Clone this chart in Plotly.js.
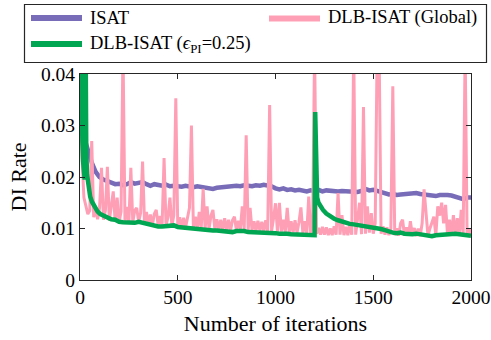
<!DOCTYPE html>
<html>
<head>
<meta charset="utf-8">
<script src="https://cdn.plot.ly/plotly-3.0.1.min.js"></script>
<style>
html,body{margin:0;padding:0;background:#fff;}
#wrap{position:relative;width:491px;height:340px;}
#legendFrame{position:absolute;left:24px;top:4px;width:463px;height:59px;box-sizing:border-box;border:1px solid #262626;pointer-events:none;z-index:5;}
</style>
</head>
<body>
<div id="wrap">
<div id="chart" style="width:491px;height:340px;"></div>
<div id="legendFrame"></div>
</div>
<script>
// ---------------- data ----------------
const seriesNames = ["ISAT", "DLB-ISAT (Global)", "DLB-ISAT (<i>ϵ</i><sub>PI</sub>=0.25)"];

const isatIter = [0,10,20,30,40,60,80,100,120,140,160,180,200,220,240,260,280,300,320,340,360,380,400,420,440,460,480,500,520,540,560,580,600,620,640,660,680,700,720,740,760,780,800,820,840,860,880,900,920,940,960,980,1000,1020,1040,1060,1080,1100,1120,1140,1160,1180,1200,1220,1240,1260,1280,1300,1320,1340,1360,1380,1400,1420,1440,1460,1480,1500,1520,1540,1560,1580,1600,1620,1640,1660,1680,1700,1720,1740,1760,1780,1800,1820,1840,1860,1880,1900,1920,1940,1960,1980,2000];
const isatRate = [0.0375,0.0310,0.0280,0.0265,0.0252,0.0228,0.0210,0.0200,0.0195,0.0192,0.0189,0.0186,0.0187,0.0184,0.0186,0.0190,0.0187,0.0188,0.0190,0.0186,0.0183,0.0186,0.0184,0.0183,0.0185,0.0182,0.0183,0.0182,0.0181,0.0183,0.0181,0.0180,0.0182,0.0181,0.0179,0.0178,0.0177,0.0179,0.0180,0.0181,0.0180,0.0182,0.0183,0.0182,0.0184,0.0183,0.0182,0.0184,0.0183,0.0185,0.0184,0.0182,0.0178,0.0176,0.0178,0.0175,0.0176,0.0174,0.0175,0.0173,0.0172,0.0174,0.0173,0.0175,0.0172,0.0174,0.0173,0.0174,0.0172,0.0173,0.0172,0.0171,0.0172,0.0171,0.0173,0.0177,0.0174,0.0175,0.0173,0.0170,0.0168,0.0166,0.0167,0.0165,0.0166,0.0167,0.0168,0.0170,0.0169,0.0167,0.0166,0.0165,0.0164,0.0163,0.0165,0.0166,0.0165,0.0164,0.0162,0.0158,0.0157,0.0160,0.0160];

const epsIter = [0,4,8,12,16,20,24,25,28,32,36,44,52,61,70,78,90,104,120,140,160,180,200,220,240,260,280,300,320,340,360,380,400,420,440,460,480,500,520,540,560,580,600,620,640,660,680,700,720,740,760,780,800,820,840,860,880,900,920,940,960,980,1000,1020,1040,1060,1080,1100,1120,1140,1160,1180,1200,1203,1208,1213,1220,1230,1243,1260,1280,1300,1320,1340,1360,1380,1400,1420,1440,1460,1480,1500,1520,1540,1560,1580,1600,1620,1640,1660,1680,1700,1720,1740,1760,1780,1800,1820,1840,1860,1880,1900,1920,1940,1960,1980,2000];
const epsRate = [0.060,0.045,0.034,0.027,0.023,0.0205,0.0195,0.070,0.035,0.025,0.0205,0.0175,0.0162,0.0152,0.0145,0.0140,0.0133,0.0128,0.0125,0.0121,0.0118,0.0117,0.0113,0.0112,0.0111,0.0110,0.0111,0.0113,0.0111,0.0109,0.0106,0.0105,0.0104,0.0104,0.0105,0.0104,0.0106,0.0103,0.0102,0.0101,0.0102,0.0100,0.0099,0.0098,0.0097,0.0097,0.0096,0.0096,0.0095,0.0094,0.0094,0.0093,0.0095,0.0096,0.0095,0.0093,0.0093,0.0092,0.0093,0.0092,0.0091,0.0092,0.0091,0.0090,0.0091,0.0090,0.0089,0.0089,0.0088,0.0088,0.0088,0.0087,0.0087,0.0326,0.0185,0.0160,0.0150,0.0142,0.0136,0.0129,0.0123,0.0119,0.0116,0.0113,0.0110,0.0109,0.0108,0.0107,0.0106,0.0105,0.0103,0.0102,0.0101,0.0099,0.0097,0.0094,0.0092,0.0091,0.0092,0.0090,0.0089,0.0089,0.0090,0.0089,0.0088,0.0086,0.0085,0.0087,0.0088,0.0089,0.0090,0.0091,0.0090,0.0089,0.0088,0.0087,0.0086];

// DLB-ISAT (Global), sampled every 10 iterations
const globalStep = 10;
const globalRate = [
0.060,0.024,0.0160,0.0142,0.0128,0.0135,0.0270,0.0122,0.0138,0.0118,
0.0140,0.0218,0.0117,0.0135,0.0220,0.0115,0.0142,0.0172,0.0113,0.0160,
0.0112,0.0133,0.0450,0.0112,0.0142,0.0111,0.0218,0.0112,0.0135,0.0140,
0.0113,0.0130,0.0230,0.0111,0.0132,0.0108,0.0127,0.0106,0.0128,0.0136,
0.0105,0.0124,0.0106,0.0237,0.0106,0.0122,0.0160,0.0105,0.0126,0.0353,
0.0104,0.0122,0.0103,0.0121,0.0102,0.0124,0.0140,0.0300,0.0102,0.0123,
0.0100,0.0132,0.0100,0.0177,0.0099,0.0143,0.0099,0.0125,0.0136,0.0098,
0.0118,0.0098,0.0117,0.0097,0.0120,0.0096,0.0117,0.0096,0.0116,0.0123,
0.0097,0.0115,0.0098,0.0143,0.0098,0.0281,0.0097,0.0140,0.0096,0.0114,
0.0095,0.0115,0.0096,0.0113,0.0095,0.0116,0.0094,0.0340,0.0095,0.0120,
0.0149,0.0094,0.0150,0.0094,0.0117,0.0093,0.0140,0.0093,0.0114,0.0092,
0.0116,0.0092,0.0112,0.0141,0.0091,0.0114,0.0091,0.0162,0.0090,0.0112,
0.0450,0.0090,0.0101,0.0088,0.0103,0.0088,0.0102,0.0087,0.0100,0.0087,
0.0104,0.0088,0.0169,0.0088,0.0126,0.0087,0.0103,0.0087,0.0110,0.0088,
0.0450,0.0088,0.0118,0.0150,0.0089,0.0336,0.0090,0.0143,0.0092,0.0130,
0.0090,0.0110,0.0450,0.0450,0.0090,0.0104,0.0088,0.0102,0.0087,0.0100,
0.0376,0.0087,0.0100,0.0086,0.0110,0.0117,0.0086,0.0102,0.0086,0.0114,
0.0086,0.0101,0.0085,0.0100,0.0085,0.0110,0.0176,0.0122,0.0085,0.0100,
0.0112,0.0123,0.0086,0.0143,0.0125,0.0150,0.0110,0.0146,0.0087,0.0117,
0.0088,0.0126,0.0087,0.0120,0.0087,0.0136,0.0090,0.0450,0.0088,0.0100,
0.0088];
const globalIter = globalRate.map((_, i) => i * globalStep);

const xTicks = [0, 500, 1000, 1500, 2000];
const yTicks = [0, 0.01, 0.02, 0.03, 0.04];

// ---------------- styling ----------------
const colors = ["#786cb9", "#ff9fb6", "#00a651"];
const FONT = "'Liberation Serif', 'Times New Roman', serif";
const W = 491, H = 340, ML = 80, MR = 20, MT = 74, MB = 60;
const PW = W - ML - MR, PH = H - MT - MB;
const px2x = p => (p - ML) / PW;
const py2y = p => (H - MB - p) / PH;

const traces = [
  {x: isatIter, y: isatRate, name: seriesNames[0], type: "scatter", mode: "lines",
   line: {color: colors[0], width: 4.5}, showlegend: false, hoverinfo: "skip"},
  {x: globalIter, y: globalRate, name: seriesNames[1], type: "scatter", mode: "lines",
   line: {color: colors[1], width: 3}, showlegend: false, hoverinfo: "skip"},
  {x: epsIter, y: epsRate, name: seriesNames[2], type: "scatter", mode: "lines",
   line: {color: colors[2], width: 4.5}, showlegend: false, hoverinfo: "skip"}
];

// manual legend (two columns, MATLAB style)
const legendItems = [
  {name: seriesNames[0], color: colors[0], lx0: 31, lx1: 82, ly: 18, tx: 88, ty: 18},
  {name: seriesNames[1], color: colors[1], lx0: 269, lx1: 320, ly: 18.5, tx: 326, ty: 18},
  {name: seriesNames[2], color: colors[2], lx0: 31, lx1: 82, ly: 44, tx: 88, ty: 44.5}
];
const shapes = [
  {type: "rect", xref: "paper", yref: "paper", layer: "above",
   x0: px2x(24.5), x1: px2x(486.5), y0: py2y(62.5), y1: py2y(4.5),
   line: {color: "#262626", width: 1.2}, fillcolor: "rgba(0,0,0,0)"}
];
const annotations = [];
legendItems.forEach(it => {
  shapes.push({type: "line", xref: "paper", yref: "paper",
    x0: px2x(it.lx0), x1: px2x(it.lx1), y0: py2y(it.ly), y1: py2y(it.ly),
    line: {color: it.color, width: 6}});
  annotations.push({xref: "paper", yref: "paper", x: px2x(it.tx), y: py2y(it.ty),
    xanchor: "left", yanchor: "middle", showarrow: false, text: it.name,
    font: {family: FONT, size: 18.5, color: "#000"}});
});

const axisCommon = {
  showline: true, linecolor: "#262626", linewidth: 1, mirror: "ticks",
  ticks: "inside", ticklen: 5, tickwidth: 1, tickcolor: "#262626",
  showgrid: false, zeroline: false,
  tickfont: {family: FONT, size: 19.5, color: "#000"}
};

const layout = {
  width: W, height: H,
  margin: {l: ML, r: MR, t: MT, b: MB, pad: 0},
  paper_bgcolor: "#fff", plot_bgcolor: "#fff",
  font: {family: FONT},
  xaxis: Object.assign({}, axisCommon, {
    range: [0, 2000], tickvals: xTicks, ticktext: xTicks.map(String),
    title: {text: "Number of iterations", font: {family: FONT, size: 22, color: "#000"}, standoff: 8}
  }),
  yaxis: Object.assign({}, axisCommon, {
    range: [0, 0.04], tickvals: yTicks, ticktext: yTicks.map(String),
    title: {text: "DI Rate", font: {family: FONT, size: 22, color: "#000"}, standoff: 8}
  }),
  shapes: shapes,
  annotations: annotations,
  showlegend: false
};

Plotly.newPlot("chart", traces, layout, {displayModeBar: false, staticPlot: true});
</script>
</body>
</html>
